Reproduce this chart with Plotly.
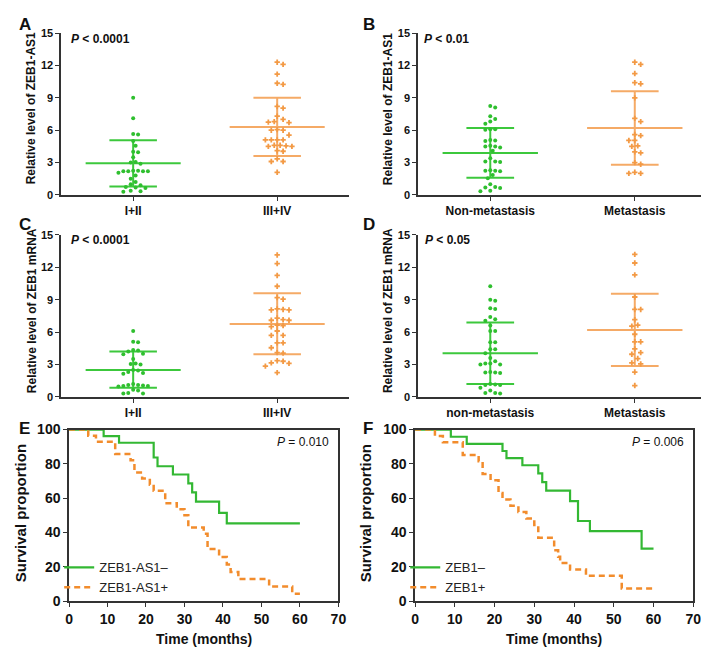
import numpy as np
import plotly.graph_objects as go

W, H = 709, 648

# ---- scatter panels (A-D): values ----
a_cats = ["I+II", "III+IV"]
a_green = [9.0, 7.1, 5.65, 5.6, 5.0, 4.55, 4.0, 3.95, 3.5, 3.05, 3.0, 2.9, 2.25, 2.2, 2.2,
           2.25, 2.2, 2.2, 2.05, 1.8, 1.5, 1.2, 1.0, 0.9, 0.75, 0.7, 0.65, 0.4, 0.35, 0.3]
a_orange = [12.3, 12.1, 11.2, 10.35, 10.25, 8.2, 8.05, 7.3, 7.0, 6.8, 6.75, 6.7, 6.05, 6.0, 6.0,
            5.55, 5.1, 5.1, 5.1, 5.1, 4.6, 4.5, 4.5, 4.55, 4.6, 4.05, 4.1, 3.35, 3.1, 3.1, 2.1]
a_stats = [(2.95, 0.78, 5.08), (6.3, 3.6, 9.0)]   # mean, lower, upper

b_cats = ["Non-metastasis", "Metastasis"]
b_green = [8.25, 8.1, 7.3, 7.05, 6.8, 6.6, 6.1, 6.1, 6.05, 5.1, 5.05, 5.0, 4.55, 4.5, 4.4, 4.5,
           4.1, 3.4, 3.1, 3.1, 3.05, 2.3, 2.25, 2.25, 2.2, 1.85, 1.55, 1.0, 0.75, 0.7, 0.65, 0.4, 0.35]
b_orange = [12.3, 12.1, 11.25, 10.4, 10.3, 9.0, 7.1, 6.8, 5.6, 5.5, 5.05, 5.05, 4.55, 4.5, 4.0,
            3.9, 3.0, 2.85, 2.1, 2.0, 2.0]
b_stats = [(3.9, 1.6, 6.2), (6.2, 2.8, 9.6)]

c_cats = ["I+II", "III+IV"]
c_green = [6.1, 5.1, 5.05, 4.35, 4.3, 4.2, 4.0, 3.95, 3.5, 3.1, 3.05, 3.0, 2.5, 2.45, 2.3, 2.2,
           2.15, 1.2, 1.1, 1.05, 1.0, 1.0, 0.95, 1.1, 0.6, 0.65, 0.35, 0.3, 0.3]
c_orange = [13.15, 12.35, 11.25, 10.25, 9.2, 9.05, 8.15, 8.05, 8.05, 8.1, 7.15, 7.1, 7.1, 7.3,
            6.6, 6.65, 6.5, 6.1, 5.7, 5.7, 5.0, 5.0, 4.55, 4.1, 4.05, 3.35, 3.3, 3.1, 3.15, 2.85, 2.25]
c_stats = [(2.5, 0.85, 4.2), (6.75, 3.95, 9.6)]

d_cats = ["non-metastasis", "Metastasis"]
d_green = [10.25, 9.0, 8.9, 8.2, 8.15, 7.4, 7.2, 7.05, 6.6, 6.1, 6.1, 5.05, 5.05, 4.4, 4.4, 4.05,
           3.6, 3.3, 3.1, 3.0, 3.0, 3.1, 2.25, 2.2, 2.25, 2.3, 1.15, 1.1, 1.1, 1.2, 0.85, 0.6,
           0.35, 0.3, 0.35]
d_orange = [13.2, 12.4, 11.3, 9.25, 8.1, 8.1, 7.15, 6.55, 6.65, 5.8, 5.1, 5.1, 4.45, 4.1, 3.95,
            3.55, 3.05, 3.15, 2.3, 1.05]
d_stats = [(4.05, 1.2, 6.9), (6.2, 2.85, 9.55)]

# ---- Kaplan-Meier panels (E, F) ----
e_neg_t = [0, 9, 13, 22, 23, 27, 31, 32, 33, 39, 41, 60]
e_neg_s = [100, 96.2, 92.3, 83.7, 78.6, 73.8, 68.6, 63.4, 58.0, 51.5, 45.3, 45.3]
e_pos_t = [0, 5, 7, 12, 16, 17, 19, 21, 22, 25, 28, 30, 31, 35, 36, 39, 41, 42, 44, 52, 58, 60]
e_pos_s = [100, 96.4, 92.9, 85.7, 82.1, 75.0, 71.4, 67.9, 64.3, 57.1, 53.6, 50.0, 42.9, 39.3,
           30.4, 25.7, 21.4, 17.0, 12.9, 8.6, 4.3, 4.3]

f_neg_t = [0, 9, 13, 22, 23, 27, 31, 32, 33, 39, 41, 44, 57, 60]
f_neg_s = [100, 95.8, 91.7, 87.5, 83.3, 79.2, 74.4, 69.4, 64.4, 58.3, 46.7, 40.8, 30.6, 30.6]
f_pos_t = [0, 5, 7, 12, 16, 17, 19, 21, 22, 24, 26, 28, 30, 31, 35, 36, 36.5, 39, 43, 52, 60]
f_pos_s = [100, 96.3, 92.6, 85.2, 81.5, 74.1, 70.4, 63.0, 59.3, 55.6, 51.9, 48.1, 44.4, 37.0,
           29.6, 25.9, 22.2, 18.5, 14.8, 7.4, 7.4]

GREEN = "#2fbf2f"
ORANGE = "#f39a45"
GREEN_LN = "#3cc83c"
ORANGE_LN = "#f5aa66"
KM_GREEN = "#33b833"
KM_ORANGE = "#f28c2c"
AXIS = "#333333"
FONT = "Liberation Sans, Arial, sans-serif"


def px_x(p):
    return p / W


def px_y(p):
    return 1 - p / H


def swarm(vals, centre, d, sx=146.5, sy=11.07):
    # simple beeswarm: push each point sideways until it does not overlap
    placed = []
    xs = []
    step = d / 2.0
    for v in vals:
        yp = v * sy
        k = 0
        while True:
            n = (k + 1) // 2 * (1 if k % 2 else -1) if k else 0
            xp = n * step
            if all((xp - a) ** 2 + (yp - b) ** 2 >= d * d for a, b in placed):
                break
            k += 1
        placed.append((xp, yp))
        xs.append(centre + xp / sx)
    return xs


fig = go.Figure()

scatter_panels = [
    ("x", "y", a_cats, a_green, a_orange, a_stats),
    ("x2", "y2", b_cats, b_green, b_orange, b_stats),
    ("x3", "y3", c_cats, c_green, c_orange, c_stats),
    ("x4", "y4", d_cats, d_green, d_orange, d_stats),
]

for xa, ya, cats, g, o, stats in scatter_panels:
    g_sorted = sorted(g, reverse=True)
    o_sorted = sorted(o, reverse=True)
    for i, (vals, col, lcol, sym, size, dist) in enumerate([
            (g_sorted, GREEN, GREEN_LN, "circle", 4, 5.0),
            (o_sorted, ORANGE, ORANGE_LN, "cross", 4.5, 6.0)]):
        m, lo, hi = stats[i]
        lx = [i - 0.33, i + 0.33, None, i - 0.165, i + 0.165, None,
              i - 0.165, i + 0.165, None, i, i]
        ly = [m, m, None, lo, lo, None, hi, hi, None, lo, hi]
        fig.add_trace(go.Scatter(x=lx, y=ly, xaxis=xa, yaxis=ya, mode="lines",
                                 line=dict(color=lcol, width=2), showlegend=False,
                                 hoverinfo="skip"))
        fig.add_trace(go.Scatter(x=swarm(vals, i, dist), y=vals, xaxis=xa, yaxis=ya,
                                 mode="markers", showlegend=False,
                                 marker=dict(color=col, size=size, symbol=sym,
                                             line=dict(width=0))))

km_panels = [
    ("x5", "y5", "legend", e_neg_t, e_neg_s, e_pos_t, e_pos_s, "ZEB1-AS1–", "ZEB1-AS1+"),
    ("x6", "y6", "legend2", f_neg_t, f_neg_s, f_pos_t, f_pos_s, "ZEB1–", "ZEB1+"),
]
for xa, ya, leg, nt, ns, pt, ps, nn, pn in km_panels:
    fig.add_trace(go.Scatter(x=nt, y=ns, xaxis=xa, yaxis=ya, mode="lines", name=nn,
                             line=dict(color=KM_GREEN, width=2.2, shape="hv"), legend=leg))
    fig.add_trace(go.Scatter(x=pt, y=ps, xaxis=xa, yaxis=ya, mode="lines", name=pn,
                             line=dict(color=KM_ORANGE, width=2.5, shape="hv", dash="6px,4px"),
                             legend=leg))

# ---- axes ----
sc_x = dict(range=[-0.5, 1.5], tickvals=[0, 1], showline=True, linecolor=AXIS, linewidth=1.5,
            ticks="outside", ticklen=4, tickcolor=AXIS, showgrid=False, zeroline=False,
            tickfont=dict(size=12, color="#111", family=FONT, weight="bold"))
sc_y = dict(range=[0, 15], tickvals=[0, 3, 6, 9, 12, 15], showline=True, linecolor=AXIS,
            linewidth=1.5, ticks="outside", ticklen=4, tickcolor=AXIS, showgrid=False,
            zeroline=False, tickfont=dict(size=11, color="#111", family=FONT, weight="bold"))
km_x = dict(range=[0, 70], dtick=10, showline=True, mirror=True, linecolor=AXIS, linewidth=1.5,
            ticks="outside", ticklen=4, tickcolor=AXIS, showgrid=False, zeroline=False,
            tickfont=dict(size=14, color="#111", family=FONT, weight="bold"))
km_y = dict(range=[0, 100], dtick=20, showline=True, mirror=True, linecolor=AXIS, linewidth=1.5,
            ticks="outside", ticklen=4, tickcolor=AXIS, showgrid=False, zeroline=False,
            tickfont=dict(size=14, color="#111", family=FONT, weight="bold"))

left_x = [px_x(50), px_x(343)]
right_x = [px_x(413), px_x(707)]
top_y = [px_y(183.5), px_y(17.5)]
mid_y = [px_y(390.5), px_y(224.5)]
km_yd = [px_y(600), px_y(424)]

fig.update_layout(
    xaxis=dict(sc_x, domain=left_x, anchor="y", ticktext=a_cats),
    yaxis=dict(sc_y, domain=top_y, anchor="x"),
    xaxis2=dict(sc_x, domain=right_x, anchor="y2", ticktext=b_cats),
    yaxis2=dict(sc_y, domain=top_y, anchor="x2"),
    xaxis3=dict(sc_x, domain=left_x, anchor="y3", ticktext=c_cats),
    yaxis3=dict(sc_y, domain=mid_y, anchor="x3"),
    xaxis4=dict(sc_x, domain=right_x, anchor="y4", ticktext=d_cats),
    yaxis4=dict(sc_y, domain=mid_y, anchor="x4"),
    xaxis5=dict(km_x, domain=[px_x(58), px_x(332)], anchor="y5"),
    yaxis5=dict(km_y, domain=km_yd, anchor="x5"),
    xaxis6=dict(km_x, domain=[px_x(410), px_x(693)], anchor="y6"),
    yaxis6=dict(km_y, domain=km_yd, anchor="x6"),
    legend=dict(x=px_x(48), y=px_y(550), xanchor="left", yanchor="top",
                bgcolor="rgba(0,0,0,0)", font=dict(size=13, family=FONT, color="#222"),
                tracegroupgap=0, itemwidth=30),
    legend2=dict(x=px_x(400), y=px_y(550), xanchor="left", yanchor="top",
                 bgcolor="rgba(0,0,0,0)", font=dict(size=13, family=FONT, color="#222"),
                 tracegroupgap=0, itemwidth=30),
    width=W, height=H, margin=dict(l=0, r=0, t=0, b=0),
    plot_bgcolor="white", paper_bgcolor="white", font=dict(family=FONT),
)

# ---- text ----
ann = []


def text(x, y, s, size, bold=True, angle=0, xanchor="center"):
    ann.append(dict(x=px_x(x), y=px_y(y), xref="paper", yref="paper", text=s, showarrow=False,
                    textangle=angle, xanchor=xanchor, yanchor="middle",
                    font=dict(size=size, family=FONT, color="#111",
                              weight="bold" if bold else "normal")))


for lab, x, y in [("A", 13, 9), ("B", 363, 9), ("C", 13, 214), ("D", 363, 214),
                  ("E", 13, 423), ("F", 362, 423)]:
    text(x, y, lab, 17)

text(19, 95, "Relative level of ZEB1-AS1", 12, angle=-90)
text(382, 96, "Relative level of ZEB1-AS1", 12, angle=-90)
text(20, 302, "Relative level of ZEB1 mRNA", 12, angle=-90)
text(382, 302, "Relative level of ZEB1 mRNA", 12, angle=-90)

text(58, 24, "<i>P</i> < 0.0001", 12, xanchor="left")
text(417, 24, "<i>P</i> < 0.01", 12, xanchor="left")
text(58, 230, "<i>P</i> < 0.0001", 12, xanchor="left")
text(418, 230, "<i>P</i> < 0.05", 12, xanchor="left")

text(9, 510, "Survival proportion", 15, angle=-90)
text(359, 510, "Survival proportion", 15, angle=-90)
text(195, 639, "Time (months)", 14)
text(551, 639, "Time (months)", 14)
text(324, 437, "<i>P</i> = 0.010", 12, bold=False, xanchor="right")
text(686, 437, "<i>P</i> = 0.006", 12, bold=False, xanchor="right")

fig.update_layout(annotations=ann)

fig.write_html("out.html")
